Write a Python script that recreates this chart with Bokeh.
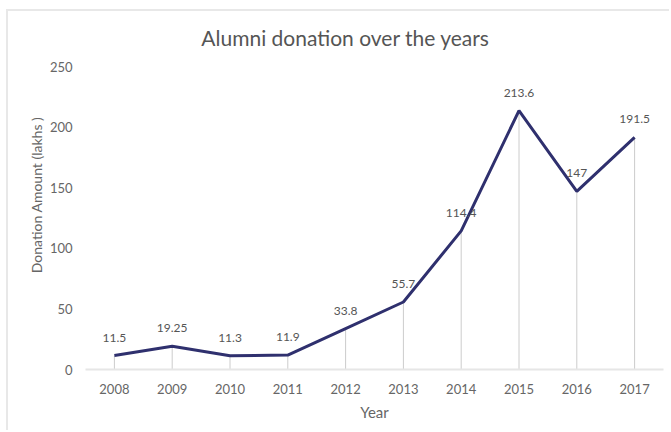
from bokeh.plotting import figure
from bokeh.models import ColumnDataSource, FixedTicker, LabelSet, Label, Range1d
from bokeh.core.properties import value
from bokeh.embed import file_html
from bokeh.resources import INLINE

years = [2008, 2009, 2010, 2011, 2012, 2013, 2014, 2015, 2016, 2017]
donations = [11.5, 19.25, 11.3, 11.9, 33.8, 55.7, 114.4, 213.6, 147, 191.5]
value_labels = ["11.5", "19.25", "11.3", "11.9", "33.8", "55.7", "114.4", "213.6", "147", "191.5"]
y_ticks = [0, 50, 100, 150, 200, 250]
title_text = "Alumni donation over the years"

FONT = "Lato"

src = ColumnDataSource(dict(x=years, y=donations, lab=value_labels, zero=[0] * len(years)))

# the frame extends above the top tick so the title can sit inside it
p = figure(width=663, height=421, output_backend="svg", toolbar_location=None,
           x_range=Range1d(2007.5, 2017.5), y_range=Range1d(0, 288),
           min_border_left=77, min_border_right=8, min_border_top=9, min_border_bottom=63,
           margin=(9, 0, 0, 6))
p.styles = {"border-top": "2px solid #e8e8e8", "border-left": "2px solid #e8e8e8"}

p.outline_line_color = None
p.grid.visible = False
p.background_fill_color = "white"
p.border_fill_color = "white"

p.segment(x0="x", y0="zero", x1="x", y1="y", source=src, line_color="#cccccc", line_width=1)
p.line(x="x", y="y", source=src, line_color="#2f306e", line_width=3)

labels = LabelSet(x="x", y="y", text="lab", source=src, text_align="center",
                  text_baseline="middle", y_offset=18, text_font_size="12px",
                  text_color="#555555", text_font=value(FONT))
p.add_layout(labels)

title = Label(x=2012, y=274, text=title_text, text_align="center",
              text_baseline="middle", text_font=FONT, text_font_size="21px",
              text_color="#555555")
p.add_layout(title)

p.xaxis.ticker = FixedTicker(ticks=years)
p.yaxis.ticker = FixedTicker(ticks=y_ticks)
for ax in (p.xaxis, p.yaxis):
    ax.major_tick_line_color = None
    ax.minor_tick_line_color = None
    ax.major_label_text_font = FONT
    ax.major_label_text_font_size = "13px"
    ax.major_label_text_color = "#666666"
    ax.axis_label_text_font = FONT
    ax.axis_label_text_font_size = "15px"
    ax.axis_label_text_font_style = "normal"
    ax.axis_label_text_color = "#666666"

p.xaxis.axis_label = "Year"
p.xaxis.axis_line_color = "#e6e6e6"
p.xaxis.axis_line_width = 2
p.xaxis.major_label_standoff = 8
p.xaxis.axis_label_standoff = 6

p.yaxis.axis_label = "Donation Amount (lakhs )"
p.yaxis.axis_label_text_font_size = "14px"
p.yaxis.axis_line_color = None
p.yaxis.major_label_standoff = 7
p.yaxis.axis_label_standoff = 2

open("out.html", "w").write(file_html(p, INLINE))
